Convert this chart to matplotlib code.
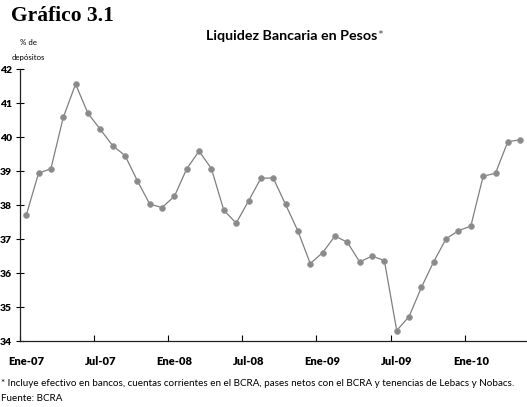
import numpy as np
import matplotlib
matplotlib.use("Agg")
import matplotlib.pyplot as plt

# Liquidez bancaria en pesos, % de depositos, mensual Ene-07 .. May-10
liquidez = [37.70, 38.94, 39.07, 40.58, 41.56, 40.70, 40.23, 39.75, 39.46, 38.72,
            38.03, 37.93, 38.26, 39.07, 39.59, 39.07, 37.85, 37.47, 38.12, 38.79,
            38.80, 38.02, 37.24, 36.28, 36.60, 37.09, 36.91, 36.33, 36.50, 36.37,
            34.31, 34.72, 35.58, 36.34, 37.01, 37.25, 37.38, 38.85, 38.94, 39.87,
            39.92]
tick_labels = ["Ene-07", "Jul-07", "Ene-08", "Jul-08", "Ene-09", "Jul-09", "Ene-10"]
y_ticks = [34, 35, 36, 37, 38, 39, 40, 41, 42]

plt.rcParams['font.family'] = ['Lato', 'DejaVu Sans']

fig = plt.figure(figsize=(5.27, 4.07), dpi=100)
ax = fig.add_axes([0.038, 0.162, 0.962, 0.668])

x = np.arange(len(liquidez))
ax.plot(x, liquidez, color="#7f7f7f", lw=0.9, marker="o", ms=4.2,
        mfc="#8a8a8a", mec="#9a9a9a", mew=0.5)

ax.set_ylim(34, 42)
ax.set_xlim(-0.5, 40.55)
ax.set_yticks(y_ticks)
ax.set_yticklabels([str(v) for v in y_ticks], fontweight="heavy", fontsize=7.5)

# ticks between categories every 6 months, labels centred on the month
ax.set_xticks(np.arange(len(tick_labels)) * 6 - 0.5)
ax.set_xticklabels([])
ax.set_xticks(np.arange(len(tick_labels)) * 6 + 0.0, minor=True)
ax.set_xticklabels(tick_labels, minor=True, fontweight="heavy", fontsize=8)
ax.tick_params(axis="x", which="minor", length=0, pad=11)
ax.tick_params(axis="x", which="major", direction="in", length=4, width=0.8)
ax.tick_params(axis="y", direction="inout", length=6, width=0.8, pad=3)

for s in ["top", "right"]:
    ax.spines[s].set_visible(False)
for s in ["left", "bottom"]:
    ax.spines[s].set_linewidth(0.9)
    ax.spines[s].set_color("#222222")

fig.text(0.02, 0.985, "Gráfico 3.1", family="Liberation Serif", fontweight="bold",
         fontsize=15.5, va="top", ha="left")
fig.text(0.716, 0.912, "Liquidez Bancaria en Pesos", fontweight="bold", fontsize=10.3,
         ha="right", va="center")
fig.text(0.716, 0.912, "*", fontsize=10, ha="left", va="center", color="#555555")
fig.text(0.054, 0.895, "% de", fontsize=5.7, ha="center", va="center")
fig.text(0.054, 0.858, "depósitos", fontsize=5.7, ha="center", va="center")

fig.text(0.002, 0.058, "* Incluye efectivo en bancos, cuentas corrientes en el BCRA, pases netos con el BCRA y tenencias de Lebacs y Nobacs.",
         fontsize=7.1, ha="left", va="center")
fig.text(0.002, 0.022, "Fuente: BCRA", fontsize=7.1, ha="left", va="center")

fig.savefig("out.png", dpi=100)
